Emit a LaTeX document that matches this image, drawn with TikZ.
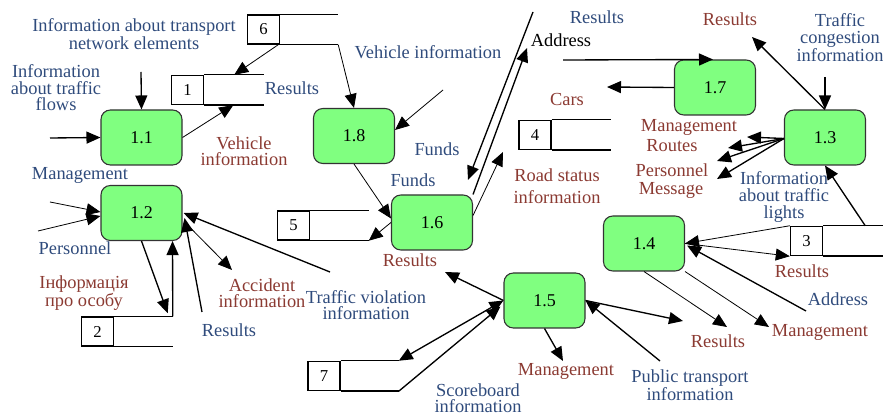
\documentclass[tikz,border=0pt]{standalone}
\usepackage{fontspec}
\setmainfont{Liberation Serif}
\usetikzlibrary{arrows.meta,calc}
\definecolor{procgreen}{RGB}{128,255,128}
\definecolor{lblblue}{RGB}{47,75,124}
\definecolor{lblred}{RGB}{139,58,50}
\begin{document}
\begin{tikzpicture}[x=0.75pt,y=-0.75pt,
  proc/.style={draw=black!80, line width=0.8pt, fill=procgreen, rounded corners=7pt,
    minimum width=60.75pt, minimum height=41.25pt, inner sep=0pt,
    font=\fontsize{13.5}{14}\selectfont},
  cell/.style={draw, line width=1.1pt, minimum width=24pt, minimum height=21.75pt,
    inner sep=0pt, font=\fontsize{12.5}{14}\selectfont},
  storeline/.style={line width=1.1pt},
  tip/.tip={Triangle[length=10.5pt,width=9pt]},
  flow/.style={-tip, line width=1pt},
  thinflow/.style={-tip, line width=0.6pt},
  lbl/.style={font=\fontsize{13.8}{12.4}\selectfont, align=center, inner sep=0pt},
  bl/.style={lbl, text=lblblue},
  rd/.style={lbl, text=lblred},
  bk/.style={lbl, text=black},
]
\useasboundingbox (0,0) rectangle (883,416);

% processes
\node[proc] (p11) at (141.5,137.5) {1.1};
\node[proc] (p12) at (141.5,213) {1.2};
\node[proc] (p18) at (354,136) {1.8};
\node[proc] (p16) at (432,222.5) {1.6};
\node[proc] (p15) at (544.5,300.5) {1.5};
\node[proc] (p17) at (715,87.5) {1.7};
\node[proc] (p13) at (825,137.5) {1.3};
\node[proc] (p14) at (644,243.5) {1.4};

% data stores: number cell plus open-ended body
\node[cell] (s6) at (263.5,29.5) {6};
\draw[storeline] (s6.north east) -- ++(58,0) coordinate (s6t);
\draw[storeline] (s6.south east) -- ++(58,0) coordinate (s6b);
\node[cell] (s1) at (187.5,90) {1};
\draw[storeline] (s1.north east) -- ++(60,0) coordinate (s1t);
\draw[storeline] (s1.south east) -- ++(60,0) coordinate (s1b);
\node[cell] (s2) at (97.5,331.5) {2};
\draw[storeline] (s2.north east) -- ++(58.5,0) coordinate (s2t);
\draw[storeline] (s2.south east) -- ++(58.5,0) coordinate (s2b);
\node[cell] (s5) at (293.5,225.5) {5};
\draw[storeline] (s5.north east) -- ++(58.5,0) coordinate (s5t);
\draw[storeline] (s5.south east) -- ++(58.5,0) coordinate (s5b);
\node[cell] (s7) at (324,376) {7};
\draw[storeline] (s7.north east) -- ++(58,0) coordinate (s7t);
\draw[storeline] (s7.south east) -- ++(58,0) coordinate (s7b);
\node[cell] (s4) at (535,135) {4};
\draw[storeline] (s4.north east) -- ++(59,0) coordinate (s4t);
\draw[storeline] (s4.south east) -- ++(59,0) coordinate (s4b);
\node[cell] (s3) at (806.5,241) {3};
\draw[storeline] (s3.north east) -- ++(61,0) coordinate (s3t);
\draw[storeline] (s3.south east) -- ++(61,0) coordinate (s3b);

% free ends of flows
\coordinate (in11n) at (141,72);
\coordinate (in11w) at (50,138);
\coordinate (in18) at (443,90);
\coordinate (topA) at (533,12);
\coordinate (downA) at (468,180);
\coordinate (upB) at (527,48);
\coordinate (road) at (503,152);
\coordinate (in17) at (563,60);
\coordinate (cars) at (607,87);
\coordinate (res13) at (752,37);
\coordinate (in13) at (825,77);
\coordinate (f1) at (747,137);
\coordinate (f2) at (728,148);
\coordinate (f3) at (717,161);
\coordinate (f4) at (717,179);
\coordinate (addr14) at (806,311);
\coordinate (res14) at (727,327);
\coordinate (mg14) at (769,327);
\coordinate (res15) at (683,321);
\coordinate (pt15) at (660,361);
\coordinate (mg15) at (563,361);
\coordinate (res16) at (445,272);
\coordinate (res12) at (202,312);
\coordinate (tv12) at (330,272);
\coordinate (acc12) at (232,270);
\coordinate (mg12) at (50,202);
\coordinate (ps12) at (38,231);

% flows
\draw[thinflow] ($(s6.south east)+(-2,0)$) -- ($(s1.north east)+(30,0)$);
\draw[thinflow] (s6b) -- (p18.north);
\draw[flow] (in11n) -- (p11.north);
\draw[flow] (in11w) -- (p11.west);
\draw[thinflow] (p11.east) -- ($(s1.south east)+(29,0)$);
\draw[thinflow] (in18) -- ($(p18.east)+(0,-6)$);
\draw[thinflow] (p18.south) -- ($(p16.west)+(0,-4)$);
\draw[thinflow] (p16.west) -- (s5b);
\draw[flow] (topA) -- (downA);
\draw[flow] (p16.north east) -- (upB);
\draw[thinflow] ($(p16.east)+(0,-7)$) -- (road);
\draw[flow] (in17) -- ($(p17.north)+(-2,0)$);
\draw[flow] (p17.west) -- (cars);
\draw[flow] (p13.north) -- (res13);
\draw[flow] (in13) -- (p13.north);
\foreach \t in {f1,f2,f3,f4}
  \draw[flow] ($(p13.west)+(0,1)$) -- (\t);
\draw[flow] ($(s3.north east)+(42,0)$) -- (p13.south);
\draw[thinflow] (s3.north west) -- (p14.east);
\draw[thinflow] (p14.east) -- (s3.south west);
\draw[flow] (addr14) -- ($(p14.east)+(2,2)$);
\draw[thinflow] (p14.south) -- (res14);
\draw[thinflow] (p14.south east) -- (mg14);
\draw[flow] (p15.east) -- (res15);
\draw[flow] (pt15) -- (p15.east);
\draw[flow] (p15.south) -- (mg15);
\draw[flow] (p15.west) -- (res16);
\draw[flow, tip-tip] (s7t) -- (p15.west);
\draw[flow] (s7b) -- ($(p15.west)+(-3,6)$);
\draw[flow] (p12.south) -- ($(s2t)+(-5,-3)$);
\draw[flow] (s2t) -- ($(p12.south east)+(-10,0)$);
\draw[flow] (res12) -- ($(p12.east)+(2,5)$);
\draw[flow] (tv12) -- ($(p12.east)+(1,0)$);
\draw[thinflow] ($(p12.east)+(3,10)$) -- (acc12);
\draw[thinflow] (mg12) -- ($(p12.west)+(0,-1)$);
\draw[thinflow] (ps12) -- ($(p12.west)+(0,3)$);

% flow labels
\node[bl] (t1) at (134,34) {Information about transport\\network elements};
\node[bl] (t2) at (56,88) {Information\\about traffic\\flows};
\node[bl] (t3) at (292,88) {Results};
\node[bl] (t4) at (80,175) {Management};
\node[bl] (t5) at (75,248) {Personnel};
\node[bl] (t6) at (229,330) {Results};
\node[bl] (t7) at (366,305) {Traffic violation\\information};
\node[bl] (t8) at (428,52) {Vehicle information};
\node[bl] (t9) at (437,149) {Funds};
\node[bl] (t10) at (413,180) {Funds};
\node[bl] (t11) at (597,17) {Results};
\node[bl] (t12) at (840,38) {Traffic\\congestion\\information};
\node[bl] (t13) at (784,197) {Information\\about traffic\\lights};
\node[bl] (t14) at (838,299) {Address};
\node[bl] (t15) at (690,385) {Public transport\\information};
\node[bl] (t16) at (478,398) {Scoreboard\\information};

\node[rd] (r1) at (244,151) {Vehicle\\information};
\node[rd] (r2) at (84,293) {Інформація\\про особу};
\node[rd] (r3) at (262,293) {Accident\\information};
\node[rd] (r4) at (410,260) {Results};
\node[rd] (r5) at (567,100) {Cars};
\node[rd, font=\fontsize{13.8}{16.5}\selectfont] (r6) at (557,186) {Road status\\information};
\node[rd] (r7) at (730,19) {Results};
\node[rd] (r8) at (689,127) {Management};
\node[rd] (r9) at (672,146) {Routes};
\node[rd] (r10) at (672,170) {Personnel};
\node[rd] (r11) at (671,190) {Message};
\node[rd] (r12) at (802,271) {Results};
\node[rd] (r13) at (820,332) {Management};
\node[rd] (r14) at (718,341) {Results};
\node[rd] (r15) at (566,371) {Management};

\node[bk] (k1) at (561,40) {Address};
\end{tikzpicture}
\end{document}
